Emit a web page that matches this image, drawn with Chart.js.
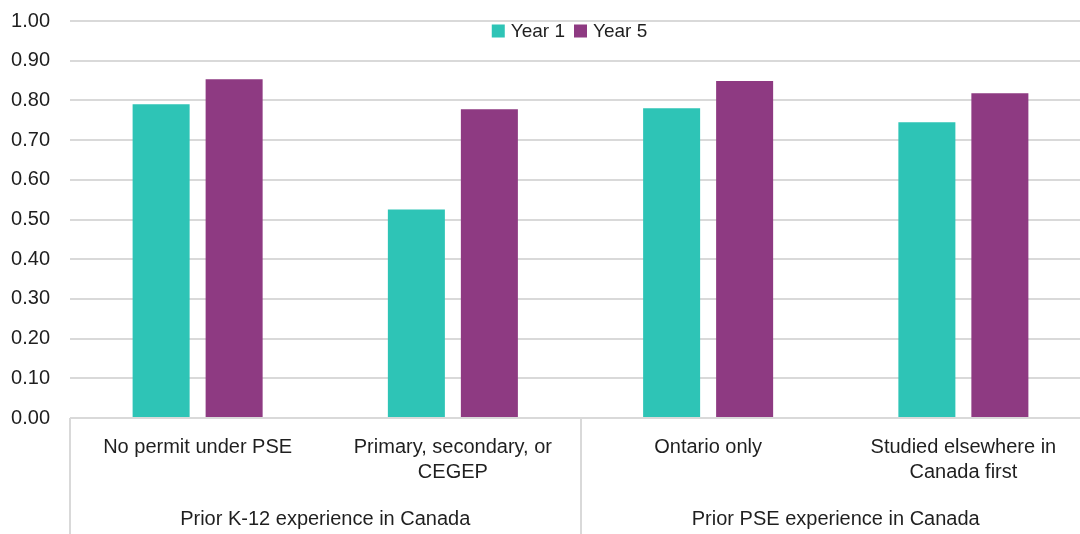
<!DOCTYPE html>
<html>
<head>
<meta charset="utf-8">
<script src="https://cdn.jsdelivr.net/npm/chart.js@4/dist/chart.umd.min.js"></script>
<style>
  html, body { margin: 0; padding: 0; background: #fff; overflow: hidden; }
  #wrap { width: 1092px; height: 534px; position: relative; }
</style>
</head>
<body>
<div id="wrap"><canvas id="chart"></canvas></div>
<script>
const categories = [
  ['No permit under PSE'],
  ['Primary, secondary, or', 'CEGEP'],
  ['Ontario only'],
  ['Studied elsewhere in', 'Canada first']
];
const groups = ['Prior K-12 experience in Canada', 'Prior PSE experience in Canada'];
const groupSizes = [2, 2];
const seriesNames = ['Year 1', 'Year 5'];
const year1 = [0.79, 0.525, 0.78, 0.745];
const year5 = [0.853, 0.778, 0.849, 0.818];
const yMin = 0, yMax = 1, yStep = 0.1;

const FONT = "'Liberation Sans', Arial, sans-serif";
const TEXT = '#1f1f1f';
const GRID = '#d9d9d9';
const colors = ['#2ec4b6', '#8e3a82'];

// draws legend overlay + group separators under the category axis
const extras = {
  id: 'extras',
  afterDraw(chart) {
    const ctx = chart.ctx;
    const x = chart.scales.x;
    const area = chart.chartArea;
    const half = (x.getPixelForValue(1) - x.getPixelForValue(0)) / 2;

    ctx.save();
    ctx.strokeStyle = GRID;
    ctx.lineWidth = 2;
    let idx = 0;
    const bounds = [x.getPixelForValue(0) - half];
    groupSizes.forEach((n) => { idx += n; bounds.push(x.getPixelForValue(idx - 1) + half); });
    bounds.forEach((bx) => {
      ctx.beginPath();
      ctx.moveTo(Math.round(bx), area.bottom);
      ctx.lineTo(Math.round(bx), chart.height);
      ctx.stroke();
    });

    // legend
    ctx.font = '19px ' + FONT;
    ctx.textBaseline = 'middle';
    const box = 13, gapTxt = 6, gapItem = 9;
    const widths = seriesNames.map((s) => box + gapTxt + ctx.measureText(s).width);
    const total = widths.reduce((a, b) => a + b, 0) + gapItem * (seriesNames.length - 1);
    let lx = (area.left + area.right) / 2 - 11 - total / 2;
    const ly = 31;
    seriesNames.forEach((s, i) => {
      ctx.fillStyle = colors[i];
      ctx.fillRect(lx, ly - box / 2, box, box);
      ctx.fillStyle = TEXT;
      ctx.fillText(s, lx + box + gapTxt, ly + 1);
      lx += widths[i] + gapItem;
    });
    ctx.restore();
  }
};

new Chart(document.getElementById('chart'), {
  type: 'bar',
  data: {
    labels: categories,
    datasets: [
      { label: seriesNames[0], data: year1, backgroundColor: colors[0] },
      { label: seriesNames[1], data: year5, backgroundColor: colors[1] }
    ]
  },
  options: {
    responsive: true,
    maintainAspectRatio: false,
    animation: false,
    layout: { padding: { top: 21, right: 1, bottom: 3, left: 0 } },
    datasets: { bar: { categoryPercentage: 0.572, barPercentage: 0.781 } },
    plugins: { legend: { display: false }, tooltip: { enabled: false } },
    scales: {
      x: {
        weight: 0,
        grid: { display: false, drawTicks: false },
        border: { display: false },
        afterFit(s) { s.height = 66; s.paddingLeft = 0; s.paddingRight = 0; },
        ticks: {
          color: TEXT, padding: 17, maxRotation: 0, autoSkip: false,
          font: { family: FONT, size: 20, lineHeight: '25px' }
        }
      },
      x2: {
        type: 'category',
        position: 'bottom',
        weight: 1,
        labels: groups,
        offset: true,
        grid: { display: false, drawTicks: false },
        border: { display: false },
        afterFit(s) { s.height = 47; s.paddingLeft = 0; s.paddingRight = 0; },
        ticks: {
          color: TEXT, padding: 23, maxRotation: 0, autoSkip: false,
          font: { family: FONT, size: 20, lineHeight: '25px' }
        }
      },
      y: {
        min: yMin, max: yMax,
        grid: { color: GRID, lineWidth: 2, drawTicks: false },
        border: { display: false },
        afterFit(s) { s.width = 70; s.paddingTop = 0; s.paddingBottom = 0; },
        ticks: {
          stepSize: yStep, color: TEXT, padding: 20,
          font: { family: FONT, size: 20 },
          callback: (v) => Number(v).toFixed(2)
        }
      }
    }
  },
  plugins: [extras]
});
</script>
</body>
</html>
